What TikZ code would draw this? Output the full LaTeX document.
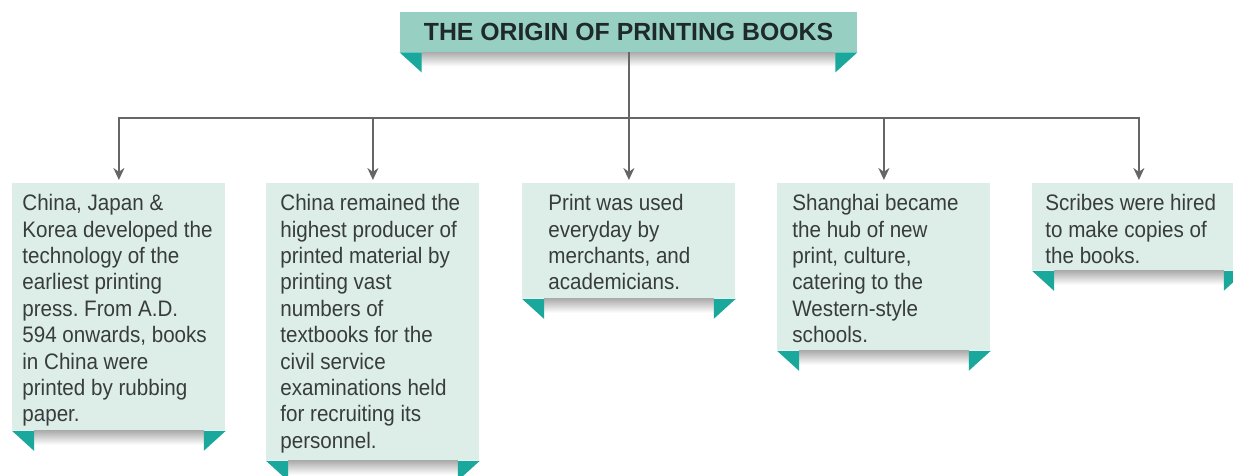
\documentclass[tikz,border=0pt]{standalone}
\usepackage{fontspec}
\setmainfont{Liberation Sans}
\newfontfamily\cardfont[FakeStretch=0.92]{Liberation Sans}
\usetikzlibrary{arrows.meta}
\definecolor{boxfill}{HTML}{DCEEE7}
\definecolor{titlefill}{HTML}{97D0C3}
\definecolor{tabcol}{HTML}{1AA89C}
\definecolor{linecol}{HTML}{666666}
\definecolor{txtcol}{HTML}{383C3C}
\definecolor{titletxt}{HTML}{1E2A2A}
\newcommand\ribbontabs[1]{%
  \shade[top color=black!32, bottom color=white] ([shift={(22,0)}]#1.south west) rectangle ([shift={(-22,14)}]#1.south east);
  \fill[tabcol] (#1.south west) -- ++(22,0) -- ++(0,20) -- cycle;
  \fill[tabcol] (#1.south east) -- ++(-22,0) -- ++(0,20) -- cycle;
}
\frenchspacing
\begin{document}
\begin{tikzpicture}[x=0.5pt,y=-0.5pt,
  card/.style={fill=boxfill, inner sep=0, anchor=north west, minimum width=106.5pt},
  txt/.style={font=\cardfont\fontsize{11.2}{13.2}\selectfont, align=left, inner sep=0, anchor=north west, text=txtcol},
  link/.style={draw=linecol, line width=1pt},
  arr/.style={link, -{Stealth[length=6pt,width=5.5pt]}, shorten >=1.5pt}
]
\fill[white] (0,0) rectangle (1233,476);
\useasboundingbox (0,0) rectangle (1233,476);

% title
\node[fill=titlefill, minimum width=228.5pt, minimum height=20pt, inner sep=0,
      font=\bfseries\fontsize{12.4}{14}\selectfont, text=titletxt] (title) at (628.5,32) {THE ORIGIN OF PRINTING BOOKS};
\ribbontabs{title}

% cards
\node[card, minimum height=123.5pt] (b1) at (12,183) {};
\node[card, minimum height=138.5pt] (b2) at (266,183) {};
\node[card, minimum height=57.5pt] (b3) at (522,183) {};
\node[card, minimum height=83.5pt] (b4) at (777,183) {};
\node[card, minimum height=43.5pt] (b5) at (1032,183) {};
\ribbontabs{b1}
\ribbontabs{b2}
\ribbontabs{b3}
\ribbontabs{b4}
\ribbontabs{b5}

\node[txt] (t1) at ([shift={(10,11)}]b1.north west) {China, Japan \&\\Korea developed the\\technology of the\\earliest printing\\press. From A.D.\\594 onwards, books\\in China were\\printed by rubbing\\paper.};
\node[txt] (t2) at ([shift={(14,11)}]b2.north west) {China remained the\\highest producer of\\printed material by\\printing vast\\numbers of\\textbooks for the\\civil service\\examinations held\\for recruiting its\\personnel.};
\node[txt] (t3) at ([shift={(26,11)}]b3.north west) {Print was used\\everyday by\\merchants, and\\academicians.};
\node[txt] (t4) at ([shift={(15,11)}]b4.north west) {Shanghai became\\the hub of new\\print, culture,\\catering to the\\Western-style\\schools.};
\node[txt] (t5) at ([shift={(13,11)}]b5.north west) {Scribes were hired\\to make copies of\\the books.};

% connectors
\coordinate (jm) at (title.south |- 0,118);
\coordinate (j1) at (b1.north |- jm);
\coordinate (j2) at (b2.north |- jm);
\coordinate (j3) at (b3.north |- jm);
\coordinate (j4) at (b4.north |- jm);
\coordinate (j5) at (b5.north |- jm);
\draw[link] (title.south) -- (jm);
\draw[link, line cap=rect] (j1) -- (j5);
\foreach \i in {1,...,5} { \draw[arr] (j\i) -- (b\i.north); }
\end{tikzpicture}
\end{document}
